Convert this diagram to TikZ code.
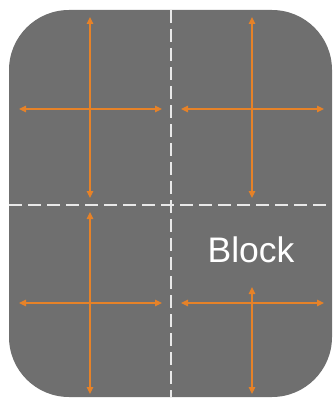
\documentclass[tikz,border=0pt]{standalone}
\usepackage{fontspec}
\setmainfont{Liberation Sans}
\usetikzlibrary{arrows.meta}
\definecolor{blockgray}{RGB}{111,111,111}
\definecolor{flow}{RGB}{230,130,40}
\definecolor{cut}{RGB}{232,232,232}

\begin{document}
\begin{tikzpicture}[x=1pt, y=-1pt, >={Triangle[length=7pt, width=6.5pt]},
  flowline/.style={<->, flow, line width=1.3pt},
  cutline/.style={cut, line width=2pt, dash pattern=on 13pt off 6pt}]
  \useasboundingbox (0,0) rectangle (333,398);
  \fill[blockgray, rounded corners=60pt] (9,10) rectangle (332,397);

  % cut lines
  \coordinate (vtop) at (171,10);
  \coordinate (vbot) at (171,397);
  \coordinate (hleft) at (9,205);
  \coordinate (hright) at (332,205);
  \draw[cutline] (vtop) -- (vbot);
  \draw[cutline] (hleft) -- (hright);

  \node[text=white, font=\fontsize{35.5}{36}\selectfont] (block) at (251,250) {Block};

  % movement arrows
  \foreach \q/\cx/\cy/\vt/\vb in {tl/90/109/17/198, tr/252/109/17/198, bl/90/303/212/394, br/252/303/287/394} {
    \coordinate (\q w) at (\cx-71,\cy);
    \coordinate (\q e) at (\cx+72,\cy);
    \coordinate (\q n) at (\cx,\vt);
    \coordinate (\q s) at (\cx,\vb);
    \draw[flowline] (\q w) -- (\q e);
    \draw[flowline] (\q n) -- (\q s);
  }
\end{tikzpicture}
\end{document}
